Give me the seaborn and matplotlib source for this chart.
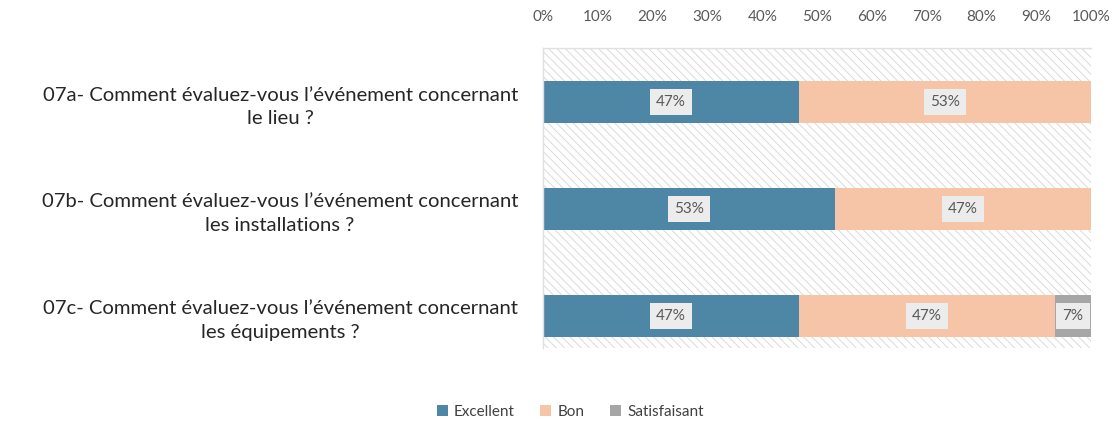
import matplotlib.pyplot as plt
import seaborn as sns
import pandas as pd
import numpy as np
from matplotlib.patches import Rectangle, Patch

# Data
questions = [
    "07a- Comment évaluez-vous l’événement concernant\nle lieu ?",
    "07b- Comment évaluez-vous l’événement concernant\nles installations ?",
    "07c- Comment évaluez-vous l’événement concernant\nles équipements ?",
]
series = ["Excellent", "Bon", "Satisfaisant"]
excellent = [46.7, 53.3, 46.7]
bon = [53.3, 46.7, 46.7]
satisfaisant = [0.0, 0.0, 6.6]
colors = ["#4e86a6", "#f6c4a6", "#a6a6a6"]
xticks = [0, 10, 20, 30, 40, 50, 60, 70, 80, 90, 100]

df = pd.DataFrame({"Question": questions, "Excellent": excellent,
                   "Bon": bon, "Satisfaisant": satisfaisant})
cum = df[series].cumsum(axis=1)

sns.set_style("white")
plt.rcParams["font.family"] = ["Lato", "DejaVu Sans"]
plt.rcParams["hatch.linewidth"] = 0.7

fig = plt.figure(figsize=(11.18, 4.21), dpi=100)
ax = fig.add_axes([0.4857, 0.1734, 0.4902, 0.7126])

# hatched plot-area background
ax.add_patch(Rectangle((0, 0), 1, 1, transform=ax.transAxes, facecolor="white",
                       edgecolor="#dadada", hatch="\\\\\\\\", linewidth=0, zorder=0))

# stacked bars: draw cumulative totals from back to front
for name, col in reversed(list(zip(series, colors))):
    sns.barplot(x=cum[name], y=df["Question"], orient="h", color=col,
                width=0.4, linewidth=0, saturation=1, ax=ax, zorder=2)

# data labels
box = dict(boxstyle="square,pad=0.4", facecolor="#ececec", edgecolor="none")
for i in range(len(df)):
    left = 0
    for name in series:
        v = df.loc[i, name]
        if v > 0:
            ax.text(left + v / 2, i, f"{v:.0f}%", ha="center", va="center",
                    fontsize=11, color="#595959", bbox=box, zorder=4)
        left += v

ax.set_xlim(0, 100)
ax.set_ylim(2.30, -0.505)
ax.set_xticks(xticks)
ax.set_xticklabels([f"{t}%" for t in xticks])
ax.xaxis.tick_top()
ax.tick_params(axis="x", length=0, pad=17, labelsize=11, labelcolor="#595959")
ax.tick_params(axis="y", length=0, pad=18, labelsize=14.6, labelcolor="#262626")
for lab in ax.get_yticklabels():
    lab.set_multialignment("center")
    lab.set_linespacing(1.45)
ax.set_xlabel("")
ax.set_ylabel("")
for s in ["top", "left"]:
    ax.spines[s].set_color("#e0e0e0")
    ax.spines[s].set_linewidth(1)
for s in ["bottom", "right"]:
    ax.spines[s].set_visible(False)

handles = [Patch(facecolor=c, edgecolor="none") for c in colors]
fig.legend(handles, series, loc="center", bbox_to_anchor=(0.51, 0.022), ncol=3,
           frameon=False, fontsize=11, handlelength=0.7, handleheight=0.7,
           handletextpad=0.4, columnspacing=1.7, labelcolor="#404040")

plt.savefig("out.png", dpi=100)
